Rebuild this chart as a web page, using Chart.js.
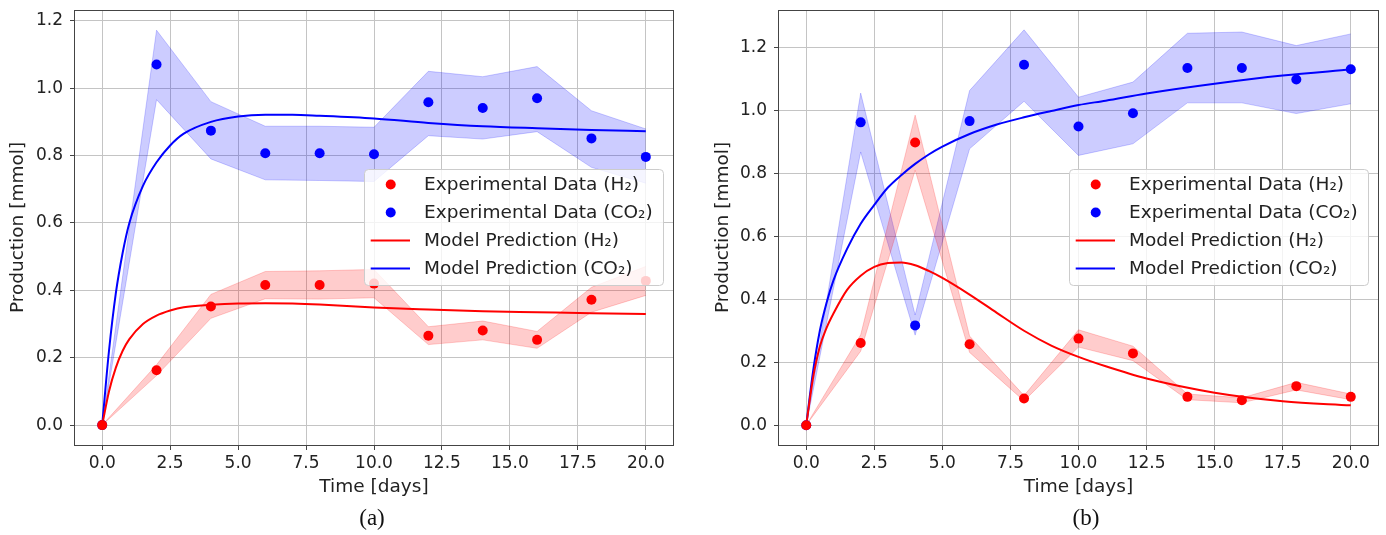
<!DOCTYPE html>
<html>
<head>
<meta charset="utf-8">
<script src="https://cdn.jsdelivr.net/npm/chart.js@4.4.1/dist/chart.umd.min.js"></script>
<style>
  body { margin: 0; background: #fff; width: 1386px; height: 535px; position: relative; overflow: hidden; }
  canvas { position: absolute; top: 0; }
  #chartA { left: 0; }
  #chartB { left: 700px; }
  .caption { position: absolute; top: 505px; font-family: 'Liberation Serif', serif; font-size: 23px; color: #111; transform: translateX(-50%); }
</style>
</head>
<body>
<canvas id="chartA" width="690" height="535"></canvas>
<canvas id="chartB" width="686" height="535"></canvas>
<div class="caption" style="left:372px">(a)</div>
<div class="caption" style="left:1086px">(b)</div>
<script>
// --- shared axes ---
const sampleDays = [0, 2, 4, 6, 8, 10, 12, 14, 16, 18, 20];
const xTicks = [0, 2.5, 5, 7.5, 10, 12.5, 15, 17.5, 20];
const yTicks = [0, 0.2, 0.4, 0.6, 0.8, 1.0, 1.2];
const legendLabels = ['Experimental Data (H₂)', 'Experimental Data (CO₂)', 'Model Prediction (H₂)', 'Model Prediction (CO₂)'];

// --- panel (a) ---
const aH2 = [0, 0.163, 0.352, 0.416, 0.416, 0.42, 0.265, 0.281, 0.253, 0.372, 0.428];
const aH2Upper = [0, 0.179, 0.388, 0.456, 0.458, 0.462, 0.292, 0.309, 0.278, 0.409, 0.471];
const aH2Lower = [0, 0.147, 0.317, 0.375, 0.374, 0.378, 0.239, 0.253, 0.228, 0.335, 0.385];
const aCO2 = [0, 1.07, 0.874, 0.807, 0.807, 0.804, 0.958, 0.941, 0.970, 0.851, 0.796];
const aCO2Upper = [0, 1.172, 0.96, 0.887, 0.887, 0.884, 1.05, 1.034, 1.064, 0.933, 0.879];
const aCO2Lower = [0, 0.966, 0.79, 0.728, 0.726, 0.723, 0.859, 0.849, 0.871, 0.765, 0.718];
const aModelDays = [0, 0.25, 0.5, 0.75, 1, 1.5, 2, 2.5, 3, 4, 5, 6, 7, 8, 10, 12, 14, 16, 18, 20];
const aModelH2 = [0, 0.1, 0.17, 0.22, 0.255, 0.3, 0.325, 0.34, 0.35, 0.357, 0.361, 0.362, 0.361, 0.358, 0.349, 0.343, 0.338, 0.335, 0.332, 0.33];
const aModelCO2 = [0, 0.22, 0.39, 0.51, 0.6, 0.71, 0.78, 0.83, 0.865, 0.9, 0.916, 0.921, 0.921, 0.918, 0.91, 0.897, 0.887, 0.881, 0.876, 0.872];

// --- panel (b) ---
const bH2 = [0, 0.261, 0.898, 0.257, 0.085, 0.275, 0.228, 0.09, 0.079, 0.124, 0.09];
const bH2Upper = [0, 0.287, 0.985, 0.283, 0.094, 0.303, 0.251, 0.099, 0.087, 0.136, 0.099];
const bH2Lower = [0, 0.235, 0.81, 0.231, 0.077, 0.248, 0.205, 0.081, 0.071, 0.112, 0.081];
const bCO2 = [0, 0.962, 0.317, 0.966, 1.145, 0.949, 0.991, 1.135, 1.135, 1.098, 1.131];
const bCO2Upper = [0, 1.055, 0.35, 1.063, 1.256, 1.042, 1.09, 1.245, 1.249, 1.206, 1.243];
const bCO2Lower = [0, 0.868, 0.286, 0.878, 1.029, 0.857, 0.894, 1.024, 1.024, 0.99, 1.021];
const bModelDays = [0, 0.25, 0.5, 0.75, 1, 1.5, 2, 2.5, 3, 3.5, 4, 4.5, 5, 6, 7, 8, 9, 10, 11, 12.5, 15, 17.5, 20];
const bModelH2 = [0, 0.15, 0.25, 0.31, 0.355, 0.43, 0.475, 0.503, 0.515, 0.517, 0.508, 0.49, 0.468, 0.415, 0.357, 0.3, 0.253, 0.217, 0.187, 0.148, 0.103, 0.076, 0.063];
const bModelCO2 = [0, 0.17, 0.3, 0.39, 0.46, 0.56, 0.64, 0.70, 0.755, 0.795, 0.83, 0.86, 0.885, 0.925, 0.955, 0.978, 0.998, 1.017, 1.031, 1.054, 1.085, 1.111, 1.13];

Chart.defaults.font.family = "'DejaVu Sans', sans-serif";
Chart.defaults.color = '#222';

const RED = '#ff0000';
const BLUE = '#0000ff';
const RED_BAND = 'rgba(255, 0, 0, 0.2)';
const BLUE_BAND = 'rgba(0, 0, 255, 0.2)';

function pts(xs, ys) {
    return xs.map((x, i) => ({ x: x, y: ys[i] }));
}

// frame around the plot + legend in the right-middle of the plot area
const frameAndLegend = {
    id: 'frameAndLegend',
    afterDraw(chart) {
        const { ctx, chartArea: a } = chart;
        ctx.save();
        ctx.strokeStyle = '#444';
        ctx.lineWidth = 1;
        const l = Math.round(a.left) - 0.5, t = Math.round(a.top) + 0.5;
        const r = Math.round(a.right) + 0.5, b = Math.round(a.bottom) + 0.5;
        ctx.strokeRect(l, t, r - l, b - t);

        // legend box
        const bx = a.right - 309, by = a.top + 159, bw = 299, bh = 116;
        ctx.beginPath();
        ctx.roundRect(bx + 0.5, by + 0.5, bw, bh, 4);
        ctx.fillStyle = 'rgba(255, 255, 255, 0.8)';
        ctx.fill();
        ctx.strokeStyle = '#cccccc';
        ctx.stroke();

        const items = chart.data.datasets.filter(d => d.inLegend);
        ctx.font = "18.5px 'DejaVu Sans'";
        ctx.textBaseline = 'middle';
        items.forEach((d, i) => {
            const yy = by + 15.5 + i * 28;
            if (d.type === 'scatter') {
                ctx.beginPath();
                ctx.arc(bx + 26.7, yy, 5, 0, Math.PI * 2);
                ctx.fillStyle = d.backgroundColor;
                ctx.fill();
            } else {
                ctx.beginPath();
                ctx.moveTo(bx + 6.7, yy);
                ctx.lineTo(bx + 46, yy);
                ctx.strokeStyle = d.borderColor;
                ctx.lineWidth = 2;
                ctx.stroke();
            }
            ctx.fillStyle = '#222';
            ctx.fillText(d.label, bx + 60, yy + 1);
        });
        ctx.restore();
    }
};

function noPad(s) {
    s.paddingTop = 0; s.paddingBottom = 0; s.paddingLeft = 0; s.paddingRight = 0;
}

function makePanel(id, p) {
    const band = (label, data, color, fill) => ({
        type: 'line', label: label, data: data, fill: fill,
        backgroundColor: color, borderColor: color, borderWidth: 1,
        pointRadius: 0, tension: 0, order: 3
    });
    new Chart(document.getElementById(id), {
        type: 'line',
        data: {
            datasets: [
                { type: 'scatter', label: legendLabels[0], inLegend: true, data: pts(sampleDays, p.h2),
                  backgroundColor: RED, borderColor: RED, pointRadius: 5, pointBorderWidth: 0, order: 1 },
                { type: 'scatter', label: legendLabels[1], inLegend: true, data: pts(sampleDays, p.co2),
                  backgroundColor: BLUE, borderColor: BLUE, pointRadius: 5, pointBorderWidth: 0, order: 1 },
                { type: 'line', label: legendLabels[2], inLegend: true, data: pts(p.modelDays, p.modelH2),
                  borderColor: RED, borderWidth: 2, pointRadius: 0, cubicInterpolationMode: 'monotone', fill: false, order: 2 },
                { type: 'line', label: legendLabels[3], inLegend: true, data: pts(p.modelDays, p.modelCO2),
                  borderColor: BLUE, borderWidth: 2, pointRadius: 0, cubicInterpolationMode: 'monotone', fill: false, order: 2 },
                band('H2 upper', pts(sampleDays, p.h2Upper), RED_BAND, '+1'),
                band('H2 lower', pts(sampleDays, p.h2Lower), RED_BAND, false),
                band('CO2 upper', pts(sampleDays, p.co2Upper), BLUE_BAND, '+1'),
                band('CO2 lower', pts(sampleDays, p.co2Lower), BLUE_BAND, false)
            ]
        },
        options: {
            responsive: false,
            animation: false,
            devicePixelRatio: 1,
            layout: { padding: { left: 0, top: 10, right: p.padRight, bottom: 30 } },
            plugins: { legend: { display: false }, tooltip: { enabled: false } },
            scales: {
                x: {
                    type: 'linear', min: -1, max: 21,
                    afterBuildTicks: s => { s.ticks = xTicks.map(v => ({ value: v })); },
                    afterFit: s => { s.height = 60; noPad(s); },
                    grid: { color: '#c4c4c4', lineWidth: 1, tickColor: '#444', tickLength: 5 },
                    border: { display: false },
                    ticks: { autoSkip: false, maxRotation: 0, padding: 3, font: { size: 17 }, color: '#222',
                             callback: v => v.toFixed(1) },
                    title: { display: true, text: 'Time [days]', font: { size: 18.5 }, color: '#222',
                             padding: { top: 0, bottom: 7 } }
                },
                y: {
                    type: 'linear', min: p.yMin, max: p.yMax,
                    afterBuildTicks: s => { s.ticks = yTicks.map(v => ({ value: v })); },
                    afterFit: s => { s.width = p.yWidth; noPad(s); },
                    grid: { color: '#c4c4c4', lineWidth: 1, tickColor: '#444', tickLength: 5 },
                    border: { display: false },
                    ticks: { padding: 7, font: { size: 17 }, color: '#222', callback: v => v.toFixed(1) },
                    title: { display: true, text: 'Production [mmol]', font: { size: 18.5 }, color: '#222',
                             padding: { top: p.yTitlePad, bottom: 0 } }
                }
            }
        },
        plugins: [frameAndLegend]
    });
}

makePanel('chartA', {
    h2: aH2, h2Upper: aH2Upper, h2Lower: aH2Lower,
    co2: aCO2, co2Upper: aCO2Upper, co2Lower: aCO2Lower,
    modelDays: aModelDays, modelH2: aModelH2, modelCO2: aModelCO2,
    yMin: -0.059, yMax: 1.232, yWidth: 75, padRight: 17, yTitlePad: 7
});

makePanel('chartB', {
    h2: bH2, h2Upper: bH2Upper, h2Lower: bH2Lower,
    co2: bCO2, co2Upper: bCO2Upper, co2Lower: bCO2Lower,
    modelDays: bModelDays, modelH2: bModelH2, modelCO2: bModelCO2,
    yMin: -0.063, yMax: 1.319, yWidth: 79, padRight: 8, yTitlePad: 12
});
</script>
</body>
</html>
